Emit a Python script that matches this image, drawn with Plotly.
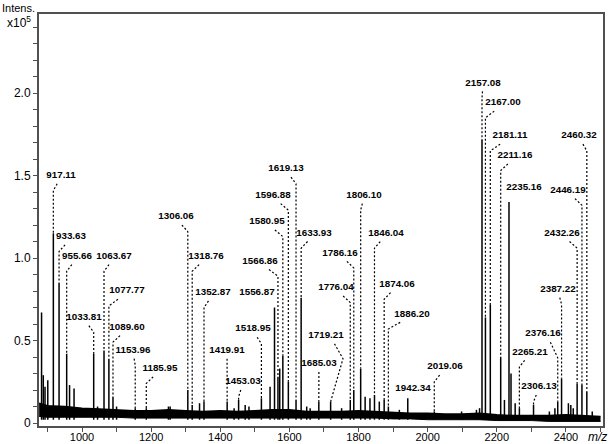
import plotly.graph_objects as go

# ---------------- data (intensity in units of 1e5) ----------------
# labelled peaks: m/z and apex intensity
label_mz = [917.11, 933.63, 955.66, 1033.81, 1063.67, 1077.77, 1089.60, 1153.96,
            1185.95, 1306.06, 1318.76, 1352.87, 1419.91, 1453.03, 1518.95, 1556.87,
            1566.86, 1580.95, 1596.88, 1619.13, 1633.93, 1685.03, 1719.21, 1776.04,
            1786.16, 1806.10, 1846.04, 1874.06, 1886.20, 1942.34, 2019.06, 2157.08,
            2167.00, 2181.11, 2211.16, 2235.16, 2265.21, 2306.13, 2376.16, 2387.22,
            2432.26, 2446.19, 2460.32]
label_int = [1.15, 0.85, 0.42, 0.42, 0.44, 0.39, 0.16, 0.09,
             0.09, 0.20, 0.11, 0.13, 0.13, 0.14, 0.15, 0.70,
             0.28, 0.41, 0.25, 0.14, 0.76, 0.13, 0.13, 0.14,
             0.20, 0.33, 0.17, 0.14, 0.10, 0.15, 0.07, 1.72,
             0.64, 0.72, 0.40, 1.34, 0.09, 0.11, 0.13, 0.27,
             0.24, 0.23, 0.19]

# unlabelled peaks
other_mz = [883, 888, 893, 901, 964, 977, 1045, 1100, 1250, 1255, 1340, 1440,
            1472, 1483, 1544, 1572, 1650, 1660, 1751, 1819, 1833, 1860, 1918,
            1985, 2098, 2141, 2150, 2222, 2241, 2253, 2352, 2368, 2407, 2414,
            2421, 2476]
other_int = [0.67, 0.29, 0.22, 0.26, 0.23, 0.21, 0.10, 0.10, 0.10, 0.10, 0.12, 0.09,
             0.11, 0.10, 0.22, 0.33, 0.10, 0.09, 0.09, 0.16, 0.15, 0.13, 0.08,
             0.06, 0.07, 0.08, 0.09, 0.14, 0.30, 0.12, 0.07, 0.09, 0.12, 0.11,
             0.09, 0.07]

# noisy baseline band (lower / upper edge)
base_mz = [876, 900, 950, 1000, 1050, 1100, 1150, 1200, 1250, 1300, 1350, 1400,
           1450, 1500, 1550, 1600, 1650, 1700, 1750, 1800, 1850, 1900, 1950, 2000,
           2050, 2100, 2150, 2200, 2250, 2300, 2350, 2400, 2450, 2500]
base_lo = [0.04, 0.035, 0.035, 0.035, 0.035, 0.035, 0.03, 0.03, 0.03, 0.03, 0.03, 0.03,
           0.03, 0.03, 0.03, 0.03, 0.03, 0.03, 0.03, 0.03, 0.03, 0.025, 0.025, 0.02,
           0.02, 0.02, 0.02, 0.015, 0.015, 0.015, 0.01, 0.01, 0.01, 0.01]
base_hi = [0.12, 0.105, 0.10, 0.09, 0.085, 0.08, 0.075, 0.075, 0.08, 0.075, 0.07, 0.075,
           0.07, 0.075, 0.08, 0.08, 0.07, 0.07, 0.07, 0.075, 0.07, 0.065, 0.06, 0.06,
           0.055, 0.055, 0.06, 0.05, 0.045, 0.045, 0.045, 0.05, 0.045, 0.04]

x_ticks = [1000, 1200, 1400, 1600, 1800, 2000, 2200, 2400]
y_ticks = [0, 0.5, 1.0, 1.5, 2.0]
y_ticktext = ["0", "0.5", "1.0", "1.5", "2.0"]

# ---------------- label placement (layout, not data) ----------------
lab_x = [939.3, 968.2, 985.5, 1005.8, 1092.6, 1130.2, 1130.2, 1147.5,
         1225.6, 1271.9, 1358.7, 1378.9, 1419.4, 1465.7, 1494.6, 1506.2,
         1514.9, 1535.1, 1552.5, 1590.1, 1671.1, 1685.6, 1705.8, 1734.7,
         1746.3, 1815.7, 1879.4, 1911.2, 1954.6, 1957.5, 2050.0, 2160.0,
         2217.8, 2238.1, 2252.5, 2278.6, 2295.9, 2322.0, 2333.5, 2376.9,
         2388.5, 2405.8, 2437.7]
lab_y = [1.50, 1.13, 1.01, 0.64, 1.01, 0.80, 0.58, 0.44,
         0.33, 1.25, 1.01, 0.79, 0.44, 0.25, 0.57, 0.79,
         0.98, 1.22, 1.38, 1.54, 1.15, 0.36, 0.53, 0.82,
         1.03, 1.38, 1.15, 0.84, 0.66, 0.21, 0.34, 2.06,
         1.94, 1.74, 1.62, 1.43, 0.43, 0.22, 0.54, 0.81,
         1.15, 1.41, 1.74]
knee_override = {1719.21: (1755.0, 0.14), 2376.16: (None, 0.145)}

fig = go.Figure()

# baseline band
fig.add_trace(go.Scatter(x=base_mz, y=base_lo, mode="lines",
                         line=dict(color="black", width=1), hoverinfo="skip"))
fig.add_trace(go.Scatter(x=base_mz, y=base_hi, mode="lines", fill="tonexty",
                         fillcolor="black", line=dict(color="black", width=1.5),
                         hoverinfo="skip"))

# peaks as sticks
sx, sy = [], []
for m, h in list(zip(label_mz, label_int)) + list(zip(other_mz, other_int)):
    sx += [m, m, None]
    sy += [0.02, h, None]
fig.add_trace(go.Scatter(x=sx, y=sy, mode="lines",
                         line=dict(color="black", width=1.5), hoverinfo="skip"))

# dashed leader lines
lx, ly = [], []
for m, h, tx, ty in zip(label_mz, label_int, lab_x, lab_y):
    kx, dk = m, 0.09
    if m in knee_override:
        ox, od = knee_override[m]
        if ox is not None:
            kx = ox
        dk = od
    if ty - dk <= h + 0.01:
        continue
    start_x = (tx + kx) / 2.0
    lx += [start_x, kx, m, None]
    ly += [ty - 0.05, ty - dk, h, None]
fig.add_trace(go.Scatter(x=lx, y=ly, mode="lines",
                         line=dict(color="black", width=1.2, dash="2px,2px"),
                         hoverinfo="skip"))

# peak labels
fig.add_trace(go.Scatter(x=lab_x, y=lab_y, mode="text",
                         text=[f"{m:.2f}" for m in label_mz],
                         textfont=dict(family="Liberation Sans, Arial", size=9.8,
                                       color="black", weight="bold"),
                         textposition="middle center", hoverinfo="skip",
                         cliponaxis=False))

axis_col = "#505050"
fig.update_layout(
    width=609, height=444,
    margin=dict(l=39, r=6, t=14, b=18, pad=0),
    plot_bgcolor="white", paper_bgcolor="white",
    showlegend=False,
    font=dict(family="Liberation Sans, Arial", color="black", size=11.5),
    xaxis=dict(range=[875.6, 2507.1], showline=True, mirror=True, automargin=False,
               linecolor=axis_col, linewidth=2, showgrid=False, zeroline=False,
               tickmode="array", tickvals=x_ticks, ticks="outside", ticklen=4,
               tickcolor=axis_col, tickwidth=1, ticklabelstandoff=-4,
               minor=dict(ticks="outside", dtick=100, tick0=900, ticklen=4,
                          tickcolor=axis_col, showgrid=False),
               tickfont=dict(size=11, color="black")),
    yaxis=dict(range=[-0.018, 2.479], showline=True, mirror=True, automargin=False,
               linecolor=axis_col, linewidth=2, showgrid=False, zeroline=False,
               tickmode="array", tickvals=y_ticks, ticktext=y_ticktext,
               ticks="outside", ticklen=4, tickcolor=axis_col, tickwidth=1,
               minor=dict(ticks="outside", dtick=0.1, tick0=0, ticklen=4,
                          tickcolor=axis_col, showgrid=False),
               tickfont=dict(size=12, color="black")),
)

fig.add_annotation(text="Intens.", xref="paper", yref="paper", x=0, y=1,
                   xshift=-39, yshift=14, xanchor="left", yanchor="top",
                   showarrow=False, font=dict(size=11, color="black"))
fig.add_annotation(text="x10<sup>5</sup>", xref="paper", yref="paper", x=0, y=1,
                   xshift=-34, yshift=2, xanchor="left", yanchor="top",
                   showarrow=False, font=dict(size=12, color="black"))
fig.add_annotation(text="<i>m/z</i>", xref="paper", yref="paper", x=1, y=0,
                   xshift=-17, yshift=-11, xanchor="left", yanchor="middle",
                   showarrow=False, font=dict(size=12, color="black"))

fig.write_html("out.html", config={"displayModeBar": False},
               post_script="document.body.style.margin='0';"
                           "document.body.style.overflow='hidden';")
